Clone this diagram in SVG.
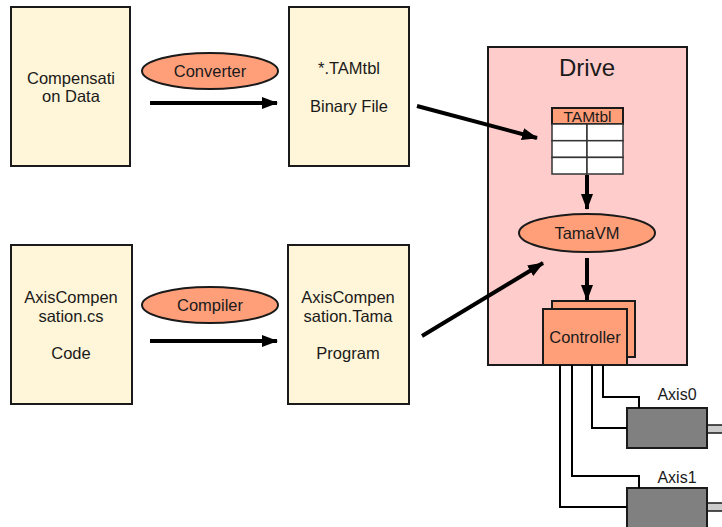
<svg xmlns="http://www.w3.org/2000/svg" width="722" height="527" viewBox="0 0 722 527">
<defs>
<marker id="ah" markerWidth="16" markerHeight="12" refX="15" refY="6" orient="auto" markerUnits="userSpaceOnUse">
<path d="M0,0 L16,6 L0,12 Z" fill="#000"/>
</marker>
<style>
text{font-family:"Liberation Sans",Arial,sans-serif;font-size:16.5px;fill:#1a1a1a;text-anchor:middle}
.doc{fill:#fff5d8;stroke:#1a1a1a;stroke-width:2}
.sal{fill:#ff9f7a;stroke:#1a1a1a;stroke-width:2}
.arr{stroke:#000;stroke-width:4;fill:none;marker-end:url(#ah)}
.wire{stroke:#000;stroke-width:2;fill:none}
.cell{fill:#fff;stroke:#333;stroke-width:1.5}
</style>
</defs>
<rect width="722" height="527" fill="#fff"/>
<g id="drive">
<rect x="488" y="47" width="199" height="318" fill="#ffcccc" stroke="#1a1a1a" stroke-width="2"/>
<text x="587" y="76" style="font-size:24px">Drive</text>
</g>
<g id="compdata">
<rect class="doc" x="11" y="7" width="119" height="159"/>
<text x="71" y="84">Compensati</text>
<text x="71" y="102">on Data</text>
</g>
<g id="binfile">
<rect class="doc" x="289" y="7" width="120" height="159"/>
<text x="349" y="74">*.TAMtbl</text>
<text x="349" y="112">Binary File</text>
</g>
<g id="converter">
<ellipse class="sal" cx="210" cy="71" rx="68" ry="18"/>
<text x="210" y="77">Converter</text>
</g>
<g id="code">
<rect class="doc" x="11" y="245" width="121" height="159"/>
<text x="71" y="303">AxisCompen</text>
<text x="71" y="322">sation.cs</text>
<text x="71" y="359">Code</text>
</g>
<g id="program">
<rect class="doc" x="288" y="245" width="121" height="159"/>
<text x="348" y="303">AxisCompen</text>
<text x="348" y="322">sation.Tama</text>
<text x="348" y="359">Program</text>
</g>
<g id="compiler">
<ellipse class="sal" cx="210" cy="305" rx="68" ry="18"/>
<text x="210" y="311">Compiler</text>
</g>
<g id="tamtbl">
<rect class="sal" x="552" y="108" width="71" height="16" stroke-width="1.5"/>
<text x="587.5" y="122" style="font-size:15.5px">TAMtbl</text>
<rect class="cell" x="552" y="124" width="35" height="16.7"/>
<rect class="cell" x="587" y="124" width="36" height="16.7"/>
<rect class="cell" x="552" y="140.7" width="35" height="16.7"/>
<rect class="cell" x="587" y="140.7" width="36" height="16.7"/>
<rect class="cell" x="552" y="157.4" width="35" height="16.6"/>
<rect class="cell" x="587" y="157.4" width="36" height="16.6"/>
</g>
<g id="tamavm">
<ellipse class="sal" cx="587" cy="233" rx="68" ry="19"/>
<text x="587" y="239">TamaVM</text>
</g>
<g id="controller">
<rect class="sal" x="552" y="301" width="83" height="56"/>
<rect class="sal" x="543" y="309" width="84" height="56"/>
<text x="585" y="343">Controller</text>
</g>
<g id="axis0">
<rect x="707" y="425" width="16" height="8" fill="#cccccc" stroke="#1a1a1a" stroke-width="1.5"/>
<rect x="627" y="408" width="80" height="40" fill="#808080" stroke="#1a1a1a" stroke-width="2"/>
<text x="677" y="400" style="font-size:16px">Axis0</text>
</g>
<g id="axis1">
<rect x="707" y="503" width="16" height="8" fill="#cccccc" stroke="#1a1a1a" stroke-width="1.5"/>
<rect x="627" y="488" width="80" height="45" fill="#808080" stroke="#1a1a1a" stroke-width="2"/>
<text x="677" y="483" style="font-size:16px">Axis1</text>
</g>
<g id="connectors">
<path class="arr" d="M150,103 H277"/>
<path class="arr" d="M150,341 H277"/>
<path class="arr" d="M417,106 L537,138"/>
<path class="arr" d="M422,336 L543,263"/>
<path class="arr" d="M587,175 V209"/>
<path class="arr" d="M587,258 V300"/>
<path class="wire" d="M603,365 V397 H639 V408"/>
<path class="wire" d="M592,365 V428 H627"/>
<path class="wire" d="M572,365 V476 H639 V488"/>
<path class="wire" d="M560,365 V507 H627"/>
</g>
</svg>
